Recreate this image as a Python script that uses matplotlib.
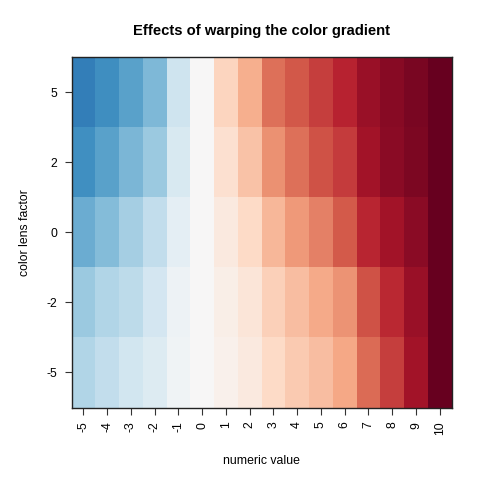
import numpy as np
import matplotlib
matplotlib.use("Agg")
import matplotlib.pyplot as plt

# numeric values along x, lens factors along y (top row first)
numeric_values = [-5, -4, -3, -2, -1, 0, 1, 2, 3, 4, 5, 6, 7, 8, 9, 10]
lens_factors = [5, 2, 0, -2, -5]

# effective (warped) value of each cell on the -10..10 gradient
warped_lens_5 = [-6.9, -6.2, -5.4, -4.5, -2.1, 0, 2.2, 3.6, 5.5, 6.2, 6.9, 7.7, 8.6, 9.1, 9.5, 10]
warped_lens_2 = [-6.1, -5.4, -4.6, -3.7, -1.6, 0, 1.6, 2.9, 4.6, 5.5, 6.4, 7.0, 8.4, 9.0, 9.4, 10]
warped_lens_0 = [-5.0, -4.3, -3.4, -2.5, -1.0, 0, 1.0, 2.0, 3.3, 4.3, 5.0, 6.1, 7.6, 8.4, 9.0, 10]
warped_lens_m2 = [-3.7, -3.0, -2.6, -1.8, -0.5, 0, 0.7, 1.3, 2.4, 3.1, 3.8, 4.5, 6.4, 7.5, 8.6, 10]
warped_lens_m5 = [-3.0, -2.5, -1.9, -1.4, -0.4, 0, 0.5, 1.0, 2.0, 2.6, 3.1, 3.9, 5.7, 6.9, 8.4, 10]


def main():
    plt.rcParams['font.family'] = ['Liberation Sans', 'DejaVu Sans']

    grid = np.array([warped_lens_5, warped_lens_2, warped_lens_0,
                     warped_lens_m2, warped_lens_m5])
    x = np.array(numeric_values)
    x_edges = np.append(x - 0.5, x[-1] + 0.5)
    y_edges = np.arange(len(lens_factors) + 1) - 0.5

    fig = plt.figure(figsize=(4.8, 4.8), dpi=100)
    ax = fig.add_axes([0.149, 0.151, 0.7917, 0.7296])
    ax.pcolormesh(x_edges, y_edges, grid, cmap='RdBu_r', vmin=-10, vmax=10,
                  shading='flat', edgecolor='none')
    ax.set_xlim(x_edges[0], x_edges[-1])
    ax.set_ylim(y_edges[-1], y_edges[0])

    ax.set_xticks(x)
    ax.set_xticklabels([str(v) for v in numeric_values], rotation=90)
    ax.set_yticks(np.arange(len(lens_factors)))
    ax.set_yticklabels([str(v) for v in lens_factors])
    ax.tick_params(axis='both', length=5.2, width=0.8, color='#333333',
                   labelsize=8.8, pad=5)

    for side in ax.spines.values():
        side.set_color('#222222')
        side.set_linewidth(1.0)

    ax.set_xlabel('numeric value', fontsize=8.8, labelpad=14)
    ax.set_ylabel('color lens factor', fontsize=8.8, labelpad=11)
    fig.text(0.544, 0.936, 'Effects of warping the color gradient',
             ha='center', va='center', fontsize=10.6, fontweight='bold')

    fig.savefig('out.png', dpi=100)


if __name__ == "__main__":
    main()
